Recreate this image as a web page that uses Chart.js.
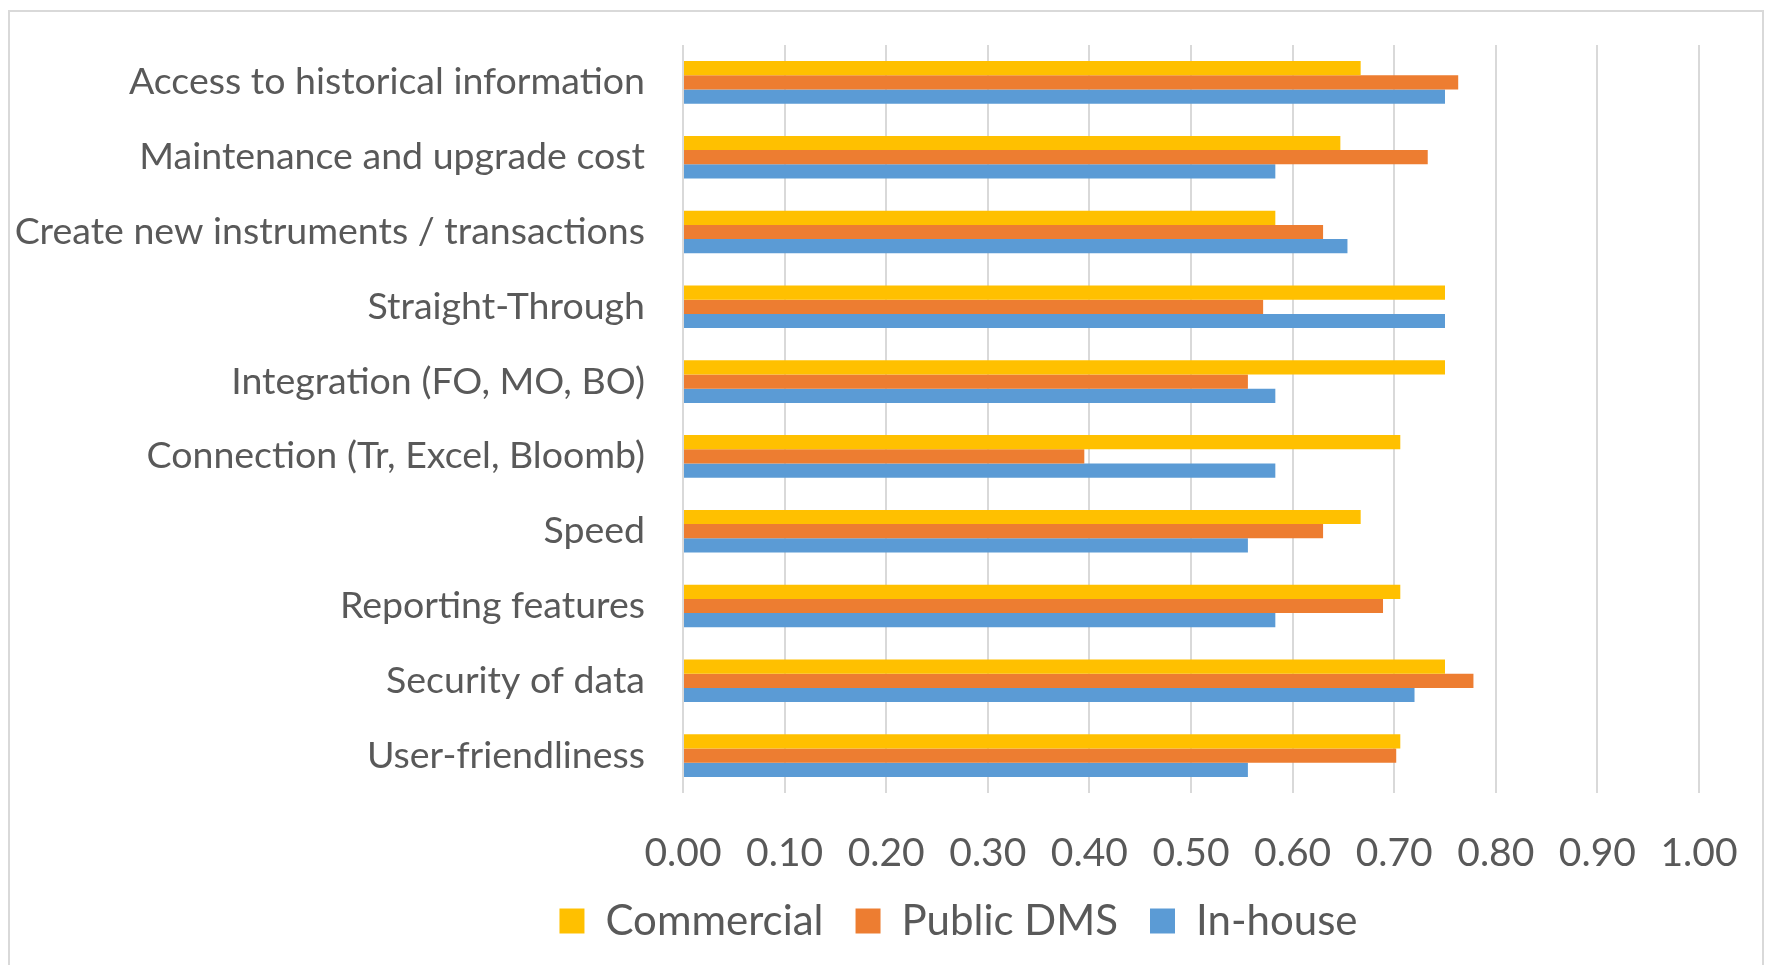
<!DOCTYPE html>
<html>
<head>
<meta charset="utf-8">
<script src="https://cdn.jsdelivr.net/npm/chart.js@4.4.0/dist/chart.umd.min.js"></script>
<style>
    html, body { margin: 0; padding: 0; background: #fff; }
    #wrap { position: relative; width: 1775px; height: 965px; }
    #frame { position: absolute; left: 8px; top: 10px; width: 1756px; height: 960px; border: 2px solid #d9d9d9; box-sizing: border-box; }
    #myChart { position: absolute; left: 0; top: 0; }
</style>
</head>
<body>
<div id="wrap">
    <div id="frame"></div>
    <canvas id="myChart" width="1775" height="965"></canvas>
</div>
<script>
var CATEGORIES = [
    'Access to historical information',
    'Maintenance and upgrade cost',
    'Create new instruments / transactions',
    'Straight-Through',
    'Integration (FO, MO, BO)',
    'Connection (Tr, Excel, Bloomb)',
    'Speed',
    'Reporting features',
    'Security of data',
    'User-friendliness'
];
var SERIES_NAMES = ['Commercial', 'Public DMS', 'In-house'];
var COMMERCIAL = [0.667, 0.647, 0.583, 0.75, 0.75, 0.706, 0.667, 0.706, 0.75, 0.706];
var PUBLIC_DMS = [0.763, 0.733, 0.63, 0.571, 0.556, 0.395, 0.63, 0.689, 0.778, 0.702];
var IN_HOUSE = [0.75, 0.583, 0.654, 0.75, 0.583, 0.583, 0.556, 0.583, 0.72, 0.556];
var X_TICKS = [0, 0.1, 0.2, 0.3, 0.4, 0.5, 0.6, 0.7, 0.8, 0.9, 1.0];

(function () {
    var COLORS = ['#ffc000', '#ed7d31', '#5b9bd5'],
        TEXT = '#595959',
        FONT = 'Lato, "Open Sans", sans-serif',
        series = [COMMERCIAL, PUBLIC_DMS, IN_HOUSE];

    Chart.defaults.font.family = FONT;
    Chart.defaults.color = TEXT;

    // legend sits under the labels+plot, not centred on the canvas
    var moveLegend = {
        id: 'moveLegend',
        afterLayout: function (chart) {
            var lg = chart.legend;
            lg.left += 109;
            lg.right += 109;
            lg.top -= 5;
            lg.bottom -= 5;
        }
    };

    new Chart(document.getElementById('myChart').getContext('2d'), {
        type: 'bar',
        data: {
            labels: CATEGORIES,
            datasets: series.map(function (values, i) {
                return {
                    label: SERIES_NAMES[i],
                    data: values,
                    backgroundColor: COLORS[i],
                    borderWidth: 0,
                    barPercentage: 1,
                    categoryPercentage: 0.57
                };
            })
        },
        options: {
            indexAxis: 'y',
            responsive: false,
            animation: false,
            devicePixelRatio: 1,
            layout: {
                padding: { top: 45, right: 76, bottom: 8, left: 0 }
            },
            scales: {
                x: {
                    min: 0,
                    max: 1,
                    afterBuildTicks: function (scale) {
                        scale.ticks = X_TICKS.map(function (v) { return { value: v }; });
                    },
                    afterFit: function (scale) { scale.height = 80; },
                    grid: { color: '#d9d9d9', lineWidth: 2, drawTicks: false },
                    border: { display: false },
                    ticks: {
                        padding: 37,
                        font: { size: 39 },
                        color: TEXT,
                        callback: function (v) { return Number(v).toFixed(2); }
                    }
                },
                y: {
                    afterFit: function (scale) { scale.width = 683; },
                    grid: { display: false, drawTicks: true, tickLength: 38, tickColor: 'rgba(0,0,0,0)' },
                    border: { display: false },
                    ticks: {
                        padding: 0,
                        font: { size: 37.5 },
                        color: TEXT
                    }
                }
            },
            plugins: {
                tooltip: { enabled: false },
                legend: {
                    position: 'bottom',
                    labels: {
                        boxWidth: 25,
                        boxHeight: 25,
                        padding: 32,
                        font: { size: 42 },
                        color: TEXT
                    }
                }
            }
        },
        plugins: [moveLegend]
    });
})();
</script>
</body>
</html>
